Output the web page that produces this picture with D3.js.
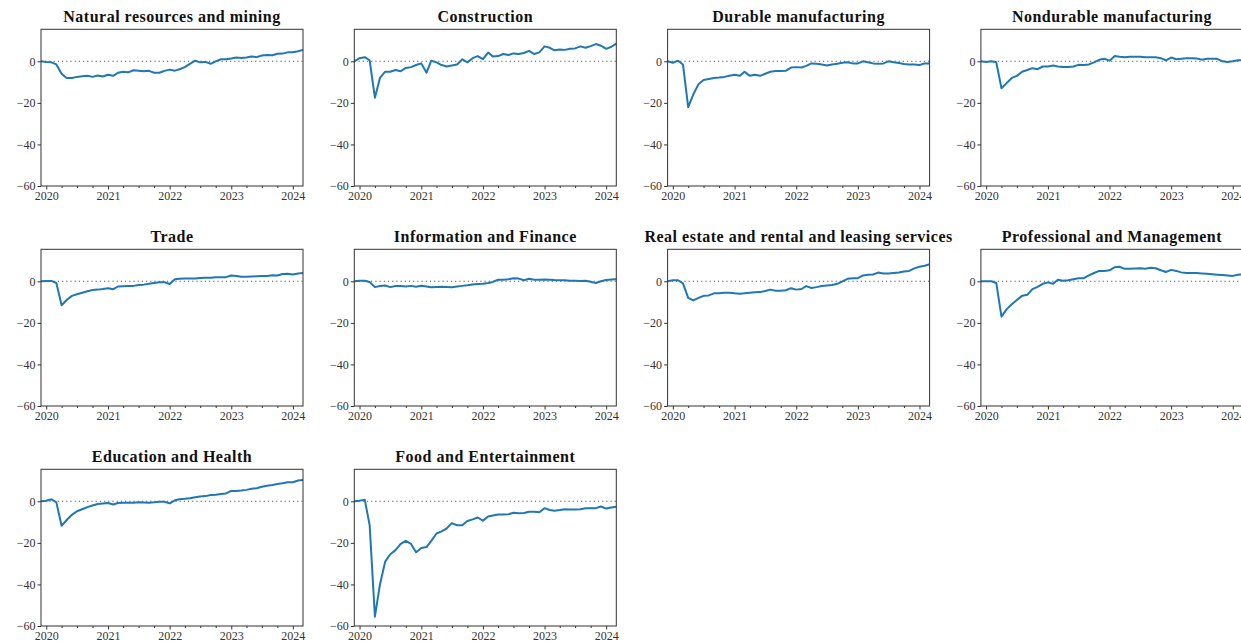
<!DOCTYPE html>
<html>
<head>
<meta charset="utf-8">
<script src="https://cdn.jsdelivr.net/npm/d3@7"></script>
<style>
  body { margin: 0; background: #fff; }
  svg { display: block; }
  .title { font-family: "Liberation Serif", "DejaVu Serif", serif; font-weight: bold; font-size: 16px; letter-spacing: 0.5px; fill: #111; }
  .tick text { font-family: "Liberation Serif", "DejaVu Serif", serif; font-size: 12px; fill: #333; }
</style>
</head>
<body>
<svg width="1241" height="642"></svg>
<script>
// Monthly index, Dec 2019 .. Mar 2024
const startMonth = new Date(Date.UTC(2019, 11, 1));
const nMonths = 52;
const yearTicks = [2020, 2021, 2022, 2023, 2024];
const yTicks = [0, -20, -40, -60];

const sectors = [
    "Natural resources and mining", "Construction", "Durable manufacturing", "Nondurable manufacturing",
    "Trade", "Information and Finance", "Real estate and rental and leasing services", "Professional and Management",
    "Education and Health", "Food and Entertainment"
];

const naturalResources = [0,-0.3,-0.5,-1.5,-6,-8,-8,-7.5,-7.2,-7,-7.5,-6.8,-7.3,
    -6.5,-7,-5.5,-5,-5.3,-4.3,-4.5,-4.8,-4.6,-5.5,-5.5,-4.6,
    -4,-4.5,-3.8,-2.8,-1.2,0.3,-0.5,-0.3,-1.2,0,1,1,
    1.3,1.8,1.6,1.8,2.3,2,2.8,3,2.9,3.6,3.7,4.3,
    4.4,4.8,5.5];
const construction = [0,1.5,2,0.5,-17.5,-8,-5,-5,-4.2,-4.8,-3.2,-2.8,-1.8,
    -1,-5.5,0.3,-0.5,-1.8,-2.5,-2,-1.5,1,-0.5,1.5,2.5,
    1,4.2,2.3,2.5,3.5,3,3.8,3.5,4,5,3.5,4.3,
    7.2,6.5,5.3,5.7,5.5,6,6.2,7.2,6.5,7.3,8.3,7.5,
    6,7,8.5];
const durable = [0,-0.7,0.3,-1.5,-22,-16,-11,-9,-8.5,-8,-7.8,-7.5,-7,
    -6.5,-7,-5,-7,-6.5,-7,-6,-5,-4.7,-4.7,-4.5,-3,
    -2.8,-3,-2.2,-1,-1.2,-1.5,-2,-1.5,-1.2,-0.7,-0.5,-1,
    -1,0,-0.5,-1,-1.2,-1,0,-0.5,-0.8,-1.3,-1.5,-1.5,
    -1.8,-1,-1];
const nondurable = [0,-0.3,0,-0.5,-13,-10.5,-8,-7,-5,-4.2,-3.3,-3.8,-2.5,
    -2.5,-2,-2.5,-2.7,-2.7,-2.5,-1.7,-1.8,-1.5,-0.5,0.7,1.2,
    0.3,2.5,2.2,2,2.2,2.2,2.2,2,2,2,1.5,0.5,
    1.8,1,1.2,1.5,1.5,1.3,0.8,1.2,1.2,1.2,0,-0.3,
    0,0.5,0.5];
const trade = [0,0.2,0.2,-0.8,-11.5,-9,-7,-6.2,-5.5,-4.8,-4.2,-4,-3.7,
    -3.3,-3.8,-2.5,-2.4,-2.3,-2.2,-1.8,-1.6,-1.2,-0.8,-0.5,-0.4,
    -1.3,1,1.2,1.3,1.4,1.4,1.6,1.7,1.7,2,2,2,
    2.8,2.6,2.2,2.2,2.3,2.4,2.5,2.6,2.9,2.8,3.5,3.6,
    3.3,3.8,4];
const infoFinance = [0,0.3,0.3,-0.3,-2.8,-2.3,-2,-2.8,-2.3,-2.3,-2.5,-2.2,-2.6,
    -2.1,-2.5,-2.9,-2.7,-2.6,-2.7,-2.9,-2.5,-2.2,-1.9,-1.5,-1.3,
    -1.2,-0.8,-0.3,0.8,0.7,1,1.5,1.3,0.5,1.2,0.7,0.8,
    0.9,0.8,0.6,0.5,0.5,0.3,0.3,0.2,0.3,-0.2,-0.8,0,
    0.6,0.9,1];
const realEstate = [0,0.5,0.5,-1,-8,-9.2,-8,-7,-6.8,-5.8,-5.7,-5.5,-5.5,
    -5.8,-6,-5.8,-5.5,-5.3,-5.2,-4.7,-4,-4.5,-4.5,-4.3,-3.3,
    -4,-3.7,-2.3,-3.2,-2.8,-2.3,-2,-1.8,-1.2,0,1.2,1.5,
    1.5,2.8,3.2,3.3,4.2,3.8,3.8,4,4.2,4.7,5,6.2,
    7,7.5,8.2];
const professional = [0,0,0,-0.8,-17,-13.5,-11,-9,-7,-6.5,-3.8,-2.7,-1.2,
    -0.5,-1.2,0.7,0.3,0.5,1,1.5,1.5,2.8,4,5,5,
    5.3,6.8,7,6,6,6.2,6.3,6,6.5,6.3,5.3,4.5,
    5.5,5,4.3,4,4,4,3.8,3.6,3.4,3.2,3,2.8,
    2.6,3.2,3.4];
const eduHealth = [0,0.3,1,-0.5,-11.8,-9,-6.5,-4.8,-3.8,-2.8,-2,-1.3,-1,
    -0.8,-1.5,-0.8,-0.7,-0.7,-0.7,-0.5,-0.6,-0.7,-0.5,-0.2,-0.2,
    -1,0.5,1,1.2,1.5,2,2.3,2.5,3,3.2,3.5,3.8,
    5,5,5.2,5.5,6,6.3,7,7.5,7.8,8.3,8.7,9.2,
    9.2,10,10.3];
const foodEnt = [0,0.3,0.8,-11.5,-55.5,-40,-29,-25.5,-23.5,-20.5,-19,-20.5,-24.5,
    -22.5,-22,-19,-15.5,-14.5,-13,-10.5,-11.5,-11.5,-9.5,-8.7,-7.8,
    -9.3,-7.3,-6.8,-6.3,-6.3,-6.2,-5.5,-5.7,-5.6,-5,-5,-5.3,
    -3.3,-4.2,-4.5,-4.2,-3.8,-4,-3.9,-3.8,-3.3,-3.4,-3.3,-2.5,
    -3.5,-3,-2.6];

const seriesList = [naturalResources, construction, durable, nondurable, trade,
    infoFinance, realEstate, professional, eduHealth, foodEnt];

const months = d3.range(nMonths).map(i => d3.utcMonth.offset(startMonth, i));

// Panel geometry
const colX = c => 41 + c * 313.3;
const rowY = r => 29.3 + r * 220;
const panelW = 262, panelH = 156.7;

const svg = d3.select("svg");

const x = d3.scaleUtc()
    .domain([months[0], months[nMonths - 1]])
    .range([0, panelW]);
const y = d3.scaleLinear()
    .domain([-60, 15.4])
    .range([panelH, 0]);

const majorTicks = yearTicks.map(yr => new Date(Date.UTC(yr, 0, 1)));
const minorTicks = d3.utcMonth.every(3).range(months[0], d3.utcMonth.offset(months[nMonths - 1], 1))
    .filter(d => d.getUTCMonth() !== 0);

const line = d3.line()
    .x((d, i) => x(months[i]))
    .y(d => y(d));

sectors.forEach((name, k) => {
    const c = k % 4, r = Math.floor(k / 4);
    const g = svg.append("g")
        .attr("transform", `translate(${colX(c)},${rowY(r)})`);

    // Zero reference line
    g.append("line")
        .attr("x1", 0).attr("x2", panelW)
        .attr("y1", y(0)).attr("y2", y(0))
        .attr("stroke", "#555")
        .attr("stroke-width", 1.1)
        .attr("stroke-dasharray", "1.2,3");

    g.append("path")
        .datum(seriesList[k])
        .attr("fill", "none")
        .attr("stroke", "#1f77b4")
        .attr("stroke-width", 2)
        .attr("stroke-linejoin", "round")
        .attr("d", line);

    // Minor x ticks
    g.append("g")
        .attr("transform", `translate(0,${panelH})`)
        .call(d3.axisBottom(x).tickValues(minorTicks).tickSize(2).tickFormat(""))
        .call(a => a.select(".domain").remove())
        .call(a => a.selectAll("line").attr("stroke", "#333"));

    // Major x ticks
    g.append("g")
        .attr("transform", `translate(0,${panelH})`)
        .call(d3.axisBottom(x).tickValues(majorTicks).tickSize(3.5).tickPadding(2)
            .tickFormat(d3.utcFormat("%Y")))
        .call(a => a.select(".domain").remove())
        .call(a => a.selectAll("line").attr("stroke", "#333"));

    // y axis
    g.append("g")
        .call(d3.axisLeft(y).tickValues(yTicks).tickSize(3.5).tickPadding(2)
            .tickFormat(d => d < 0 ? "\u2212" + Math.abs(d) : d))
        .call(a => a.select(".domain").remove())
        .call(a => a.selectAll("line").attr("stroke", "#333"));

    // Frame
    g.append("rect")
        .attr("width", panelW).attr("height", panelH)
        .attr("fill", "none")
        .attr("stroke", "#333")
        .attr("stroke-width", 1);

    g.append("text")
        .attr("class", "title")
        .attr("x", panelW / 2)
        .attr("y", -7)
        .attr("text-anchor", "middle")
        .text(name);
});
</script>
</body>
</html>
